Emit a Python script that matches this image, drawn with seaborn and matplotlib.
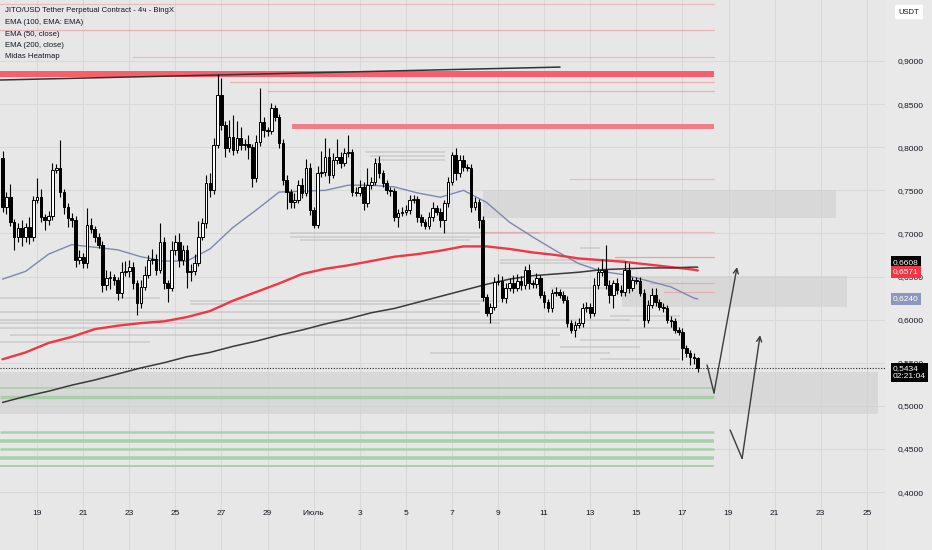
import numpy as np
import pandas as pd
import matplotlib
matplotlib.use("Agg")
import matplotlib.pyplot as plt
import matplotlib.dates as mdates
import matplotlib.transforms as mtrans
from matplotlib.patches import Rectangle
from matplotlib.ticker import FuncFormatter
import seaborn as sns

# 4h candles, JITO/USDT (closes; open = previous close)
start = "2025-06-17 12:00"
first_open = 0.788
closes = [
    0.731, 0.742, 0.713, 0.696, 0.706, 0.696, 0.707, 0.696, 0.739, 0.742,
    0.719, 0.716, 0.720, 0.774, 0.776, 0.748, 0.731, 0.718, 0.716, 0.669,
    0.673, 0.666, 0.710, 0.705, 0.696, 0.687, 0.640, 0.648, 0.649, 0.646,
    0.631, 0.655, 0.656, 0.661, 0.642, 0.619, 0.638, 0.652, 0.669, 0.670,
    0.658, 0.690, 0.642, 0.637, 0.681, 0.690, 0.669, 0.681, 0.655, 0.656,
    0.666, 0.696, 0.712, 0.758, 0.750, 0.803, 0.861, 0.826, 0.799, 0.812,
    0.797, 0.811, 0.803, 0.804, 0.800, 0.764, 0.806, 0.829, 0.820, 0.819,
    0.845, 0.835, 0.805, 0.762, 0.748, 0.736, 0.739, 0.756, 0.747, 0.776,
    0.727, 0.710, 0.770, 0.771, 0.789, 0.768, 0.785, 0.789, 0.782, 0.793,
    0.794, 0.748, 0.747, 0.754, 0.735, 0.756, 0.760, 0.782, 0.770, 0.758,
    0.750, 0.749, 0.719, 0.724, 0.725, 0.727, 0.739, 0.740, 0.719, 0.713,
    0.709, 0.719, 0.729, 0.725, 0.716, 0.735, 0.760, 0.791, 0.770, 0.785,
    0.777, 0.776, 0.731, 0.736, 0.716, 0.626, 0.608, 0.615, 0.644, 0.645,
    0.625, 0.637, 0.642, 0.637, 0.645, 0.640, 0.658, 0.642, 0.641, 0.648,
    0.629, 0.620, 0.613, 0.631, 0.632, 0.629, 0.623, 0.596, 0.588, 0.594,
    0.596, 0.613, 0.615, 0.608, 0.640, 0.655, 0.658, 0.640, 0.629, 0.642,
    0.634, 0.632, 0.658, 0.637, 0.646, 0.645, 0.631, 0.600, 0.617, 0.629,
    0.620, 0.615, 0.613, 0.600, 0.598, 0.588, 0.586, 0.567, 0.561, 0.557,
    0.555, 0.5434,
]
wick_up = [
    0.008, 0.006, 0.015, 0.004, 0.006, 0.010, 0.005, 0.012, 0.004, 0.022,
    0.010, 0.004, 0.006, 0.008, 0.004, 0.032, 0.004, 0.004, 0.006, 0.004,
    0.008, 0.004, 0.020, 0.008, 0.004, 0.004, 0.004, 0.010, 0.008, 0.004,
    0.004, 0.012, 0.012, 0.008, 0.006, 0.004, 0.008, 0.010, 0.006, 0.012,
    0.006, 0.022, 0.006, 0.004, 0.010, 0.008, 0.010, 0.006, 0.006, 0.008,
    0.010, 0.018, 0.006, 0.010, 0.012, 0.008, 0.024, 0.019, 0.004, 0.020,
    0.025, 0.020, 0.012, 0.006, 0.010, 0.004, 0.008, 0.040, 0.006, 0.004,
    0.006, 0.004, 0.004, 0.004, 0.006, 0.004, 0.008, 0.006, 0.008, 0.010,
    0.006, 0.004, 0.008, 0.025, 0.022, 0.010, 0.008, 0.020, 0.006, 0.006,
    0.020, 0.004, 0.006, 0.008, 0.006, 0.020, 0.006, 0.006, 0.008, 0.004,
    0.004, 0.004, 0.004, 0.004, 0.006, 0.006, 0.006, 0.005, 0.004, 0.004,
    0.004, 0.006, 0.008, 0.004, 0.004, 0.004, 0.006, 0.004, 0.008, 0.006,
    0.006, 0.004, 0.004, 0.006, 0.004, 0.004, 0.004, 0.004, 0.006, 0.008,
    0.006, 0.006, 0.006, 0.010, 0.008, 0.006, 0.004, 0.006, 0.004, 0.006,
    0.004, 0.004, 0.004, 0.004, 0.006, 0.004, 0.004, 0.004, 0.004, 0.004,
    0.006, 0.006, 0.006, 0.004, 0.008, 0.006, 0.012, 0.029, 0.006, 0.004,
    0.006, 0.006, 0.010, 0.008, 0.004, 0.004, 0.004, 0.004, 0.006, 0.008,
    0.008, 0.004, 0.004, 0.004, 0.004, 0.004, 0.004, 0.004, 0.004, 0.004,
    0.004, 0.002,
]
wick_dn = [
    0.006, 0.008, 0.004, 0.015, 0.006, 0.010, 0.006, 0.008, 0.005, 0.004,
    0.006, 0.012, 0.006, 0.004, 0.004, 0.006, 0.008, 0.010, 0.008, 0.008,
    0.004, 0.006, 0.006, 0.004, 0.006, 0.004, 0.008, 0.006, 0.012, 0.006,
    0.008, 0.006, 0.004, 0.006, 0.006, 0.014, 0.006, 0.004, 0.004, 0.004,
    0.006, 0.004, 0.006, 0.016, 0.004, 0.006, 0.008, 0.006, 0.018, 0.010,
    0.004, 0.004, 0.004, 0.006, 0.008, 0.004, 0.004, 0.006, 0.010, 0.004,
    0.006, 0.004, 0.006, 0.006, 0.014, 0.010, 0.004, 0.004, 0.008, 0.006,
    0.004, 0.004, 0.006, 0.006, 0.020, 0.006, 0.006, 0.004, 0.006, 0.004,
    0.006, 0.004, 0.004, 0.004, 0.004, 0.010, 0.004, 0.004, 0.006, 0.004,
    0.004, 0.004, 0.004, 0.004, 0.008, 0.004, 0.004, 0.004, 0.006, 0.004,
    0.004, 0.006, 0.004, 0.012, 0.004, 0.004, 0.004, 0.004, 0.006, 0.004,
    0.004, 0.004, 0.004, 0.004, 0.008, 0.015, 0.004, 0.004, 0.008, 0.004,
    0.004, 0.004, 0.006, 0.004, 0.010, 0.004, 0.004, 0.012, 0.004, 0.004,
    0.004, 0.006, 0.004, 0.006, 0.004, 0.006, 0.004, 0.006, 0.004, 0.004,
    0.004, 0.006, 0.004, 0.004, 0.004, 0.004, 0.004, 0.004, 0.004, 0.008,
    0.004, 0.004, 0.004, 0.006, 0.004, 0.004, 0.004, 0.004, 0.010, 0.016,
    0.004, 0.004, 0.004, 0.006, 0.004, 0.004, 0.004, 0.008, 0.004, 0.004,
    0.004, 0.004, 0.004, 0.004, 0.006, 0.004, 0.004, 0.014, 0.004, 0.010,
    0.006, 0.004,
]

# moving averages read every 6 candles (plus the last one)
ma_idx = list(range(0, 181, 6)) + [181]
ema50 = [0.647, 0.656, 0.676, 0.687, 0.684, 0.681, 0.673, 0.668, 0.668, 0.682,
         0.707, 0.727, 0.748, 0.749, 0.750, 0.756, 0.756, 0.754, 0.747, 0.742,
         0.750, 0.736, 0.713, 0.696, 0.680, 0.665, 0.656, 0.652, 0.645, 0.638,
         0.625, 0.624]
ema200 = [0.554, 0.562, 0.573, 0.580, 0.589, 0.593, 0.596, 0.598, 0.603, 0.610,
          0.622, 0.632, 0.642, 0.653, 0.659, 0.663, 0.668, 0.673, 0.676, 0.680,
          0.685, 0.685, 0.682, 0.678, 0.675, 0.671, 0.669, 0.667, 0.664, 0.661,
          0.658, 0.6571]
ema100 = [0.504, 0.511, 0.517, 0.524, 0.530, 0.537, 0.544, 0.550, 0.557, 0.562,
          0.569, 0.575, 0.582, 0.588, 0.595, 0.601, 0.608, 0.613, 0.620, 0.627,
          0.634, 0.641, 0.647, 0.651, 0.653, 0.655, 0.658, 0.659, 0.660, 0.660,
          0.661, 0.6608]

# time positions below are day numbers counted from June (July 1 = 31)
view_from, view_to = 17.39, 55.79
level_end = 48.37

trend_days = [17.39, 41.69]
trend_price = [0.878, 0.893]

red_band_lo = [0.881, 0.821]
red_band_hi = [0.889, 0.827]
red_band_from = [17.39, 30.06]
red_band_color = ["#f85f6a", "#f47c84"]

red_lvl_price = [0.966, 0.936, 0.905, 0.876, 0.865, 0.763, 0.702, 0.673, 0.642, 0.632]
red_lvl_from = [17.39, 17.39, 23.16, 27.37, 29.02, 42.12, 38.22, 44.08, 45.60, 46.20]
red_lvl_alpha = [0.35, 0.45, 0.35, 0.45, 0.45, 0.35, 0.35, 0.6, 0.4, 0.4]

green_price = [0.521, 0.510, 0.470, 0.459, 0.450, 0.439, 0.430]
green_width = [1.2, 2.4, 1.8, 2.6, 1.8, 2.6, 1.4]

zone_lo = [0.718, 0.615, 0.490]
zone_hi = [0.750, 0.651, 0.539]
zone_from = [38.35, 44.38, 17.39]
zone_to = [53.66, 54.14, 55.49]

heat_price = [0.794, 0.790, 0.785, 0.700, 0.696, 0.692, 0.669, 0.666, 0.637, 0.622,
              0.618, 0.609, 0.600, 0.596, 0.590, 0.582, 0.574, 0.568, 0.561, 0.554,
              0.604, 0.683, 0.625, 0.576]
heat_from = [33.23, 33.45, 33.66, 29.98, 29.98, 30.41, 39.09, 39.09, 41.26, 25.64,
             25.64, 17.39, 17.39, 17.39, 17.39, 17.83, 17.39, 41.69, 36.05, 43.43,
             43.86, 42.56, 17.39, 42.56]
heat_to = [36.70, 36.70, 36.70, 40.82, 38.22, 37.79, 44.51, 43.43, 43.86, 39.09,
           38.22, 38.22, 44.73, 39.09, 46.90, 41.69, 23.90, 45.16, 43.86, 46.90,
           46.90, 43.43, 24.34, 46.90]

path1_days = [48.07, 48.37, 49.37]
path1_price = [0.5474, 0.515, 0.661]
path2_days = [49.07, 49.59, 50.37]
path2_price = [0.472, 0.439, 0.582]

tick_days = [19, 21, 23, 25, 27, 29, 31, 33, 35, 37, 39, 41, 43, 45, 47, 49, 51, 53, 55]
tick_labels = ["19", "21", "23", "25", "27", "29", "Июль", "3", "5", "7", "9",
               "11", "13", "15", "17", "19", "21", "23", "25"]
price_ticks = [0.40, 0.45, 0.50, 0.55, 0.60, 0.65, 0.70, 0.75, 0.80, 0.85, 0.90]

legend_lines = ["JITO/USD Tether Perpetual Contract - 4ч - BingX", "EMA (100, EMA: EMA)",
                "EMA (50, close)", "EMA (200, close)", "Midas Heatmap"]

base = mdates.date2num(pd.Timestamp("2025-06-01"))


def jd(d):
    return base + np.asarray(d, dtype=float) - 1


sns.set_theme(style="white", rc={"axes.facecolor": "#e7e7e7", "figure.facecolor": "#e9e9e9"})
plt.rcParams["font.family"] = ["Liberation Sans", "DejaVu Sans"]

fig = plt.figure(figsize=(9.32, 5.5), dpi=100)
ax = fig.add_axes([0, 0, 885 / 932, 1])
for s in ax.spines.values():
    s.set_visible(False)

times = mdates.date2num(pd.date_range(start, periods=len(closes), freq="4h"))
c = np.array(closes)
o = np.concatenate([[first_open], c[:-1]])
hi = np.maximum(o, c) + np.array(wick_up)
lo = np.minimum(o, c) - np.array(wick_dn)
up = c >= o

# zones and levels
for a, b, t0, t1 in zip(zone_lo, zone_hi, zone_from, zone_to):
    ax.add_patch(Rectangle((jd(t0), a), jd(t1) - jd(t0), b - a, fc="#cfcfcf", ec="none",
                           alpha=0.6, zorder=1))
for p, t0, t1 in zip(heat_price, heat_from, heat_to):
    ax.plot(jd([t0, t1]), [p, p], color="#c2c2c2", lw=1.1, alpha=0.75, zorder=1.5,
            solid_capstyle="butt")
for p, t0, a in zip(red_lvl_price, red_lvl_from, red_lvl_alpha):
    ax.plot(jd([t0, level_end]), [p, p], color="#f0707a", lw=0.9, alpha=a, zorder=1.6)
for a, b, t0, col in zip(red_band_lo, red_band_hi, red_band_from, red_band_color):
    ax.add_patch(Rectangle((jd(t0), a), jd(level_end) - jd(t0), b - a, fc=col, ec="none",
                           zorder=1.7))
for p, w in zip(green_price, green_width):
    ax.plot(jd([view_from, level_end]), [p, p], color="#a3cfa3", lw=w, alpha=0.9,
            zorder=1.7, solid_capstyle="butt")

# moving averages
ma_t = times[ma_idx]
sns.lineplot(x=ma_t, y=ema50, ax=ax, color="#7d88b0", lw=1.0, zorder=3)
sns.lineplot(x=ma_t, y=ema200, ax=ax, color="#f23645", lw=1.7, zorder=3)
sns.lineplot(x=ma_t, y=ema100, ax=ax, color="#3a3a3a", lw=1.1, zorder=3)
ax.plot(jd(trend_days), trend_price, color="#333333", lw=1.1, zorder=3)

# candles
w = 4 / 24 * 0.68
ax.vlines(times, lo, hi, color="black", lw=0.8, zorder=4)
body = np.maximum(np.abs(c - o), 0.0012)
ax.bar(times, body, bottom=np.minimum(o, c), width=w,
       color=np.where(up, "white", "black"), edgecolor="black", linewidth=0.7, zorder=5)

# projection arrows
for xs, ys in [(path1_days, path1_price), (path2_days, path2_price)]:
    ax.plot(jd(xs[:2]), ys[:2], color="#3c3c3c", lw=1.0, zorder=6)
    ax.annotate("", xy=(jd(xs[2]), ys[2]), xytext=(jd(xs[1]), ys[1]),
                arrowprops=dict(arrowstyle="->", color="#3c3c3c", lw=1.0,
                                mutation_scale=9, shrinkA=0, shrinkB=0), zorder=6)

ax.axhline(closes[-1], color="#222222", lw=0.8, ls=(0, (1, 1.5)), zorder=6)

# axes
ax.set_xlim(jd(view_from), jd(view_to))
ax.set_ylim(0.9708 - 0.00116 * 550, 0.9708)
ax.set_xticks(jd(tick_days))
ax.set_xticklabels(tick_labels)
ax.set_yticks(price_ticks)
ax.yaxis.set_major_formatter(FuncFormatter(lambda v, _: f"{v:.4f}".replace(".", ",")))
ax.yaxis.tick_right()
ax.tick_params(axis="y", length=0, pad=9, labelsize=6, labelcolor="#131722")
ax.tick_params(axis="x", length=0, pad=-29, labelsize=6, labelcolor="#131722")
ax.grid(True, color="#d9d9d9", lw=0.8)
ax.set_axisbelow(True)

tr = mtrans.blended_transform_factory(ax.transAxes, ax.transData)
tags = [(0.6665, "0,6608", "#000000"), (0.6555, "0,6571", "#f23645"),
        (0.6240, "0,6240", "#8c97bb")]
for y, txt, fc in tags:
    ax.text(1.009, y, txt, transform=tr, ha="left", va="center", fontsize=6, color="white",
            zorder=10, bbox=dict(boxstyle="square,pad=0.28", fc=fc, ec="none"))
ax.text(1.009, 0.5475, "0,5434\n02:21:04", transform=tr, ha="left", va="top", fontsize=6,
        color="white", linespacing=1.15, zorder=10,
        bbox=dict(boxstyle="square,pad=0.28", fc="#000000", ec="none"))
fig.text(909 / 932, 1 - 12 / 550, "USDT", ha="center", va="center", fontsize=5.5,
         color="#131722", bbox=dict(boxstyle="round,pad=0.5,rounding_size=0.3", fc="white",
                                    ec="none"))

for k, line in enumerate(legend_lines):
    fig.text(5 / 932, 1 - (11 + 11.5 * k) / 550, line, ha="left", va="center",
             fontsize=5.6, color="#131722")

fig.savefig("out.png", dpi=100, facecolor=fig.get_facecolor())
